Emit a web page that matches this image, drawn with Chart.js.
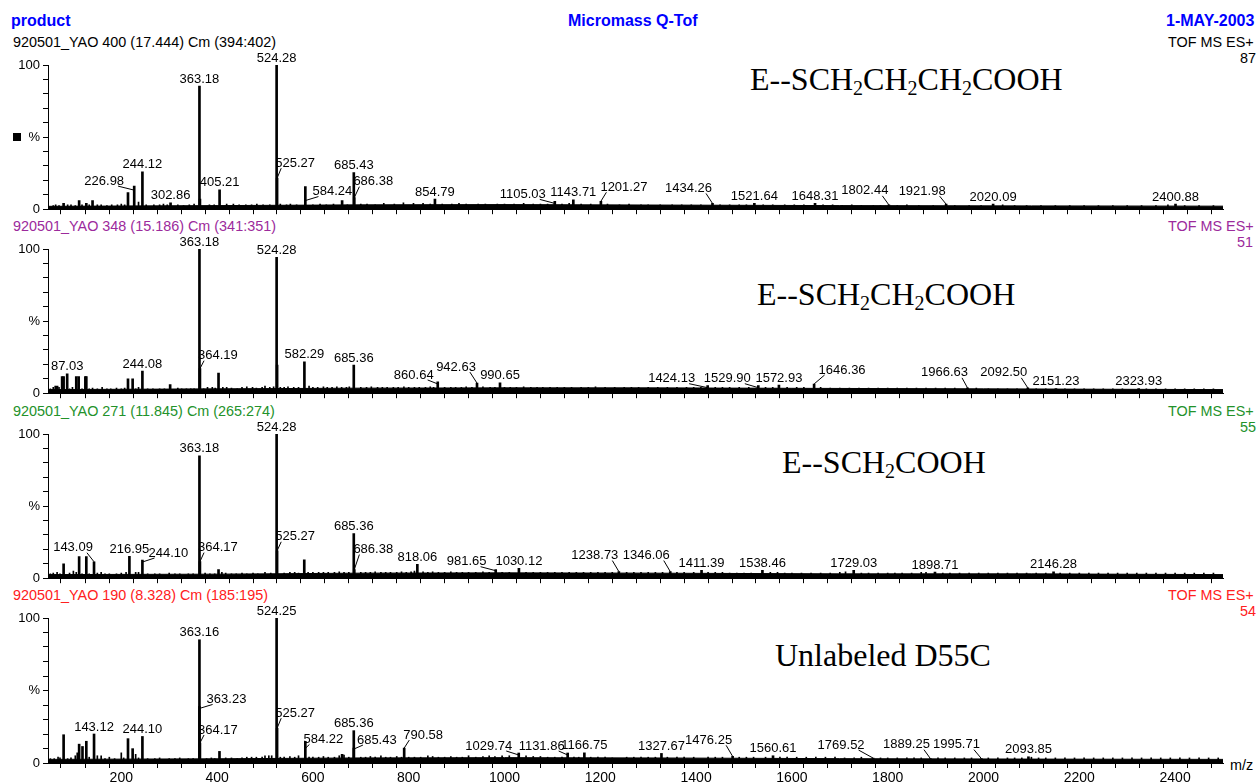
<!DOCTYPE html>
<html>
<head>
<meta charset="utf-8">
<script src="https://cdn.jsdelivr.net/npm/chart.js@4.4.1/dist/chart.umd.min.js"></script>
<style>
  body { margin: 0; background: #fff; }
  #page { position: relative; width: 1258px; height: 783px; overflow: hidden; font-family: "Liberation Sans", Arial, sans-serif; }
  .txt { position: absolute; white-space: nowrap; font-size: 14.4px; line-height: 16px; }
  .hd { font-size: 16px; line-height: 18px; font-weight: bold; color: #0000ff; }
  .big { position: absolute; white-space: nowrap; font-family: "Liberation Serif", "Times New Roman", serif; font-size: 32px; line-height: 32px; color: #000; }
  .big sub { font-size: 20px; vertical-align: -5px; line-height: 0; }
  canvas { position: absolute; left: 0; }
</style>
</head>
<body>
<div id="page">
  <div class="txt hd" style="left:11px;top:12px">product</div>
  <div class="txt hd" style="left:568px;top:12px">Micromass Q-Tof</div>
  <div class="txt hd" style="left:1166px;top:12px">1-MAY-2003</div>

  <div class="txt" style="left:13px;top:34px;color:#000">920501_YAO 400 (17.444) Cm (394:402)</div>
  <div class="txt" style="left:1168px;top:34px;color:#000">TOF MS ES+</div>
  <div class="txt" style="right:2px;top:50px;color:#000">87</div>
  <div style="position:absolute;left:13px;top:133px;width:8px;height:8px;background:#000"></div>

  <div class="txt" style="left:13px;top:218px;color:#9c2a9c">920501_YAO 348 (15.186) Cm (341:351)</div>
  <div class="txt" style="left:1168px;top:218px;color:#9c2a9c">TOF MS ES+</div>
  <div class="txt" style="right:5px;top:234px;color:#9c2a9c">51</div>

  <div class="txt" style="left:13px;top:403px;color:#23922a">920501_YAO 271 (11.845) Cm (265:274)</div>
  <div class="txt" style="left:1168px;top:403px;color:#23922a">TOF MS ES+</div>
  <div class="txt" style="right:2px;top:419px;color:#23922a">55</div>

  <div class="txt" style="left:13px;top:587px;color:#ff2020">920501_YAO 190 (8.328) Cm (185:195)</div>
  <div class="txt" style="left:1168px;top:587px;color:#ff2020">TOF MS ES+</div>
  <div class="txt" style="right:2px;top:603px;color:#ff2020">54</div>

  <div class="big" style="left:750px;top:63px">E--SCH<sub>2</sub>CH<sub>2</sub>CH<sub>2</sub>COOH</div>
  <div class="big" style="left:757px;top:278px">E--SCH<sub>2</sub>CH<sub>2</sub>COOH</div>
  <div class="big" style="left:782px;top:446px">E--SCH<sub>2</sub>COOH</div>
  <div class="big" style="left:775px;top:639px">Unlabeled D55C</div>

  <div class="txt" style="left:1230px;top:757px;color:#000">m/z</div>
</div>

<script>
// ---- panel 1 : YAO 400 ----
const mz1  = [79.6, 112, 127, 140, 214, 226.98, 244.12, 302.86, 363.18, 364.2, 405.21, 524.28, 525.27, 584.24, 661, 685.43, 686.38,
              854.79, 1105.03, 1143.71, 1201.27, 1434.26, 1521.64, 1648.31, 1802.44, 1921.98, 2020.09, 2400.88];
const int1 = [4, 6, 4, 6, 11.6, 16, 26, 4.5, 85.3, 7, 13.5, 100, 21.5, 15.7, 6, 25.4, 8,
              7, 5.4, 6.5, 5.5, 4, 4, 4, 3, 3.5, 3.5, 3.5];
const labels1 = [226.98, 244.12, 302.86, 363.18, 405.21, 524.28, 525.27, 584.24, 685.43, 686.38, 854.79, 1105.03, 1143.71,
                 1201.27, 1434.26, 1521.64, 1648.31, 1802.44, 1921.98, 2020.09, 2400.88];
const nudge1 = { '226.98': [-30, 2], '525.27': [18, -8], '584.24': [27, 12], '686.38': [19, -9], '1105.03': [-32, 0],
                 '1201.27': [23, -7], '1434.26': [-24, -8], '1802.44': [-24, -7], '1921.98': [-24, -6] };
const noise1 = [[58,2.5],[63,3],[70,2.5],[88,3],[95,3],[104,2.5],[118,3],[133,3],[150,3],[158,3],[170,2.5],[180,3],[192,3],[200,3.5],
  [207,3],[236,5],[252,3],[268,3],[280,3],[288,3.5],[296,3],[318,3],[330,2.5],[342,3],[352,3.5],[384,3],[394,3],[420,3.5],[434,3.5],
  [446,3],[460,3],[472,3],[483,3.5],[496,3],[510,3],[532,3.5],[545,3],[553,3.5],[566,3],[600,3],[615,3.5],[628,3],[643,3.5],[672,3],
  [700,3.5],[713,3.5],[730,3],[748,4],[770,3.5],[789,4.5],[810,4],[830,4],[845,3.5],[870,3.5],[890,3.5],[905,4],[920,3.5],[945,3.5],
  [960,3.5],[985,3.5],[1000,3.5],[1020,3.5],[1040,4],[1060,3.5],[1075,3.5],[1090,3.5],[1120,3.5],[1135,4],[1160,3.5],[1180,3.5],
  [1215,3.5],[1240,3],[1260,3.5],[1285,3],[1300,3],[1325,3],[1350,3],[1370,3],[1390,3],[1410,3],[1450,3],[1470,3],[1490,3],[1505,3],
  [1540,3],[1560,3],[1585,3],[1605,3],[1625,3],[1665,3],[1685,3],[1705,2.5],[1725,3],[1745,2.5],[1770,2.5],[1785,2.5],[1820,2.5],
  [1840,3],[1865,2.5],[1895,2.5],[1940,2.5],[1970,2.5],[1995,2.5],[2040,3],[2065,2.5],[2090,2.5],[2120,2.5],[2150,2.5],[2180,2.5],
  [2210,2.5],[2240,2.5],[2270,2.5],[2300,2.5],[2330,2.5],[2360,2.5],[2385,3],[2420,2.5],[2450,2.5],[2480,2.5]];
const floor1 = [[47,2],[400,2.5],[700,3],[1000,3.2],[1300,2.9],[1700,2.5],[2100,2.3],[2500,2.1]];

// ---- panel 2 : YAO 348 ----
const mz2  = [66, 76.5, 79.6, 87.03, 106, 111, 125, 127, 214, 223.7, 244.08, 302, 363.18, 364.19, 403, 524.28, 525.3, 582.29, 685.36,
              860.64, 942.63, 990.65, 1424.13, 1529.90, 1572.93, 1646.36, 1966.63, 2092.50, 2151.23, 2323.93];
const int2 = [5, 11.5, 11.5, 13.5, 11.5, 11.5, 11.5, 11.5, 9.9, 9.9, 15.4, 6, 100, 17, 14, 94.2, 19.5, 21.8, 19.5,
              7.8, 7, 7.2, 5.2, 5.2, 5.7, 6.4, 3.7, 3.7, 3.2, 3.2];
const labels2 = [87.03, 244.08, 363.18, 364.19, 524.28, 582.29, 685.36, 860.64, 942.63, 990.65, 1424.13, 1529.90, 1572.93,
                 1646.36, 1966.63, 2092.50, 2151.23, 2323.93];
const nudge2 = { '364.19': [18, -6], '860.64': [-24, 0], '942.63': [-21, -9], '1424.13': [-36, 0], '1529.90': [-31, 0],
                 '1646.36': [28, -7], '1966.63': [-23, -8], '2092.50': [-24, -8] };
const noise2 = [[52,3],[58,4],[62,5],[70,4],[92,3],[98,4],[118,3],[133,3],[140,3.5],[150,3],[160,4],[170,3],[178,3],[190,3.5],
  [200,3],[207,3.5],[230,3],[236,4],[255,3],[266,3],[280,3],[290,3],[318,3.5],[326,3],[336,3],[345,3],[352,3],[372,3],[380,4],
  [390,4],[396,3.5],[412,4],[420,4],[430,3.5],[442,3],[452,4],[462,4.5],[474,4],[482,3.5],[494,4],[500,5],[510,4],[518,4.5],
  [532,4],[540,4],[548,4.5],[560,4],[570,4],[592,5],[600,4],[610,4],[622,4.5],[630,4],[640,4],[650,4.5],[660,4],[670,4],[676,4.5],
  [700,4],[712,4],[722,4.5],[735,4],[745,4],[755,4],[768,4],[778,4],[790,4.5],[800,4],[812,4],[822,4],[835,4],[845,4.5],[852,4],
  [875,4],[888,4],[898,4],[910,4],[920,4.5],[932,4],[955,4.5],[970,4],[980,4],[1000,4],[1012,4],[1025,4],[1040,4.5],[1055,4],
  [1068,4],[1080,4],[1095,4],[1110,4],[1125,4],[1140,4],[1160,4],[1175,4],[1190,4.5],[1210,4],[1230,4],[1250,4],[1265,4],[1280,4],
  [1300,4],[1320,4],[1340,4],[1360,4],[1380,4],[1395,4],[1410,4],[1440,4],[1455,4],[1470,4],[1490,4],[1510,4],[1545,4],[1560,4],
  [1590,4],[1610,4],[1625,4],[1660,4],[1680,3.5],[1700,3.5],[1720,3.5],[1740,3.5],[1760,3.5],[1780,3.5],[1800,3.5],[1820,3.5],
  [1840,3.5],[1860,3.5],[1880,3.5],[1900,3.5],[1920,3.5],[1940,3.5],[1985,3.5],[2010,3],[2030,3],[2050,3],[2070,3],[2110,3],
  [2130,3],[2170,3],[2190,3],[2210,3],[2230,3],[2250,3],[2270,3],[2290,3],[2340,3],[2360,3],[2380,3],[2400,3],[2420,3],[2440,3],
  [2460,3],[2480,3]];
const floor2 = [[47,2.5],[400,3],[700,3.5],[1000,3.7],[1300,3.7],[1600,3.4],[2000,3],[2500,2.5]];

// ---- panel 3 : YAO 271 ----
const mz3  = [79.6, 112, 127, 143.09, 216.95, 244.10, 363.18, 364.17, 403, 524.28, 525.27, 582, 685.36, 686.38, 818.06,
              981.65, 1030.12, 1238.73, 1346.06, 1411.39, 1538.46, 1729.03, 1898.71, 2146.28];
const int3 = [10, 15, 15, 11.4, 15.2, 12.6, 84.9, 11.5, 6, 100, 19, 12.8, 31, 6, 9.6,
              5.9, 6.9, 4.6, 4.6, 5.5, 5.5, 5.5, 4.3, 4.4];
const labels3 = [143.09, 216.95, 244.10, 363.18, 364.17, 524.28, 525.27, 685.36, 686.38, 818.06, 981.65, 1030.12, 1238.73,
                 1346.06, 1411.39, 1538.46, 1729.03, 1898.71, 2146.28];
const nudge3 = { '143.09': [-21, -7], '244.10': [26, 0], '364.17': [18, -7], '525.27': [18, -7], '686.38': [19, -13],
                 '981.65': [-29, -1], '1238.73': [-24, -9], '1346.06': [-24, -9] };
const noise3 = [[52,3],[58,3.5],[66,4],[72,3],[92,3.5],[100,5],[106,4],[118,3],[133,3],[150,3.5],[158,4],[166,3],[175,3],[190,3],
  [200,3.5],[210,4],[230,4],[236,4],[255,3],[270,3],[280,3],[300,3.5],[312,3],[322,3],[340,3],[350,3],[375,3.5],[385,3],[395,3],
  [410,4],[418,3.5],[430,3],[440,3],[452,3.5],[462,3],[475,3.5],[485,3],[500,4],[512,3.5],[540,3.5],[552,4],[562,4],[570,3.5],
  [590,4],[600,4],[612,4],[622,4],[632,4],[645,4],[655,4.5],[665,4],[675,4],[700,4],[710,4],[720,4],[730,4.5],[742,4],[752,4],
  [762,4],[775,4],[785,4.5],[795,4],[805,4.5],[812,5],[830,4.5],[840,4],[850,4.5],[862,4],[875,4],[888,4.5],[900,4],[912,4],
  [925,4],[940,4],[955,4.5],[968,4],[995,4],[1010,4],[1045,4],[1060,4],[1075,4],[1090,4],[1105,4],[1120,4],[1135,4],[1150,4],
  [1165,4],[1180,4],[1195,4],[1210,4],[1225,4],[1255,4],[1270,4],[1285,4],[1300,4],[1315,4],[1330,4],[1360,4],[1375,4],[1395,4],
  [1425,4],[1440,4],[1455,4],[1470,3.5],[1485,3.5],[1500,3.5],[1515,3.5],[1555,4],[1570,4],[1585,3.5],[1600,3.5],[1620,3.5],
  [1640,3.5],[1660,3.5],[1680,3.5],[1700,4],[1712,4.5],[1745,3.5],[1760,3.5],[1780,3.5],[1800,3.5],[1815,3.5],[1830,3.5],
  [1850,3.5],[1870,4],[1880,4],[1915,3.5],[1930,3.5],[1950,3.5],[1970,3.5],[1990,3.5],[2010,3.5],[2030,3.5],[2050,3.5],[2070,3.5],
  [2090,3.5],[2110,3.5],[2130,3.5],[2160,3.5],[2180,3.5],[2200,3.5],[2220,3.5],[2240,3.5],[2260,3.5],[2280,3.5],[2300,3.5],
  [2320,3.5],[2340,3.5],[2360,3.5],[2380,3.5],[2400,3.5],[2420,3.5],[2440,3.5],[2460,3.5],[2480,3.5]];
const floor3 = [[47,2.5],[400,2.8],[700,3.5],[1000,3.7],[1300,3.5],[1700,3],[2100,3],[2500,2.5]];

// ---- panel 4 : YAO 190 (unlabeled) ----
const mz4  = [79.6, 112, 119, 127, 143.12, 214, 223.7, 244.10, 363.16, 363.23, 364.17, 405, 524.25, 525.27, 584.22, 661, 685.36,
              685.43, 790.58, 1029.74, 1131.86, 1166.75, 1327.67, 1476.25, 1560.61, 1769.52, 1889.25, 1995.71, 2093.85];
const int4 = [19.5, 13, 11.4, 15, 20, 16.8, 9.9, 18.3, 85, 39, 13.8, 8, 100, 24, 14.9, 6, 22.3,
              10.3, 10.3, 6.9, 6.9, 7, 6.6, 4.6, 5, 3.4, 3, 3, 4.3];
const labels4 = [143.12, 244.10, 363.16, 363.23, 364.17, 524.25, 525.27, 584.22, 685.36, 685.43, 790.58, 1029.74, 1131.86,
                 1166.75, 1327.67, 1476.25, 1560.61, 1769.52, 1889.25, 1995.71, 2093.85];
const nudge4 = { '363.23': [27, 0], '364.17': [18, -6], '525.27': [18, -8], '584.22': [18, 5], '685.43': [23, -1],
                 '790.58': [19, -6], '1029.74': [-30, 0], '1131.86': [-26, 0], '1476.25': [-24, -9], '1769.52': [-32, -6],
                 '1889.25': [-24, -7], '1995.71': [-25, -7] };
const noise4 = [[52,3],[60,3],[68,4],[72,3.5],[88,3],[95,3.5],[104,5],[108,7],[133,4],[150,5],[158,5],[166,3],[175,4],[186,3],
  [200,7],[205,3.5],[230,6],[236,3.5],[255,3],[270,3],[280,3.5],[300,3],[312,3],[322,3.5],[340,3],[350,3],[378,3],[388,3.5],[395,3],
  [418,3.5],[430,3.5],[442,3],[452,3.5],[462,4],[472,4],[482,4],[494,4],[500,5],[508,5],[514,5],[532,4],[540,4],[552,4.5],[562,4],
  [570,5],[592,4],[600,4],[612,4],[622,4.5],[632,4],[645,4],[655,5],[665,5.5],[675,4],[700,4],[710,4],[720,4.5],[730,4],[742,5],
  [752,4],[762,4],[775,4.5],[785,4],[800,4],[812,4],[825,4],[840,5],[850,4.5],[862,4],[875,4],[888,4.5],[900,4],[912,4],[925,5],
  [940,4],[955,4.5],[968,5],[980,4.5],[995,5],[1010,5],[1045,5],[1060,4.5],[1075,4.5],[1090,4],[1105,4],[1120,4],[1145,4],[1155,4],
  [1180,4],[1195,4],[1210,4],[1225,3.5],[1255,4],[1270,4],[1285,4],[1300,4],[1315,4],[1340,4],[1360,4],[1375,4],[1395,4],[1425,4],
  [1440,4],[1455,4],[1490,4],[1505,4],[1520,4],[1545,4],[1575,4],[1590,4],[1610,4],[1630,4],[1650,4],[1670,4],[1690,4],[1710,3.5],
  [1730,3.5],[1745,4],[1785,3.5],[1800,3.5],[1820,3.5],[1840,3.5],[1855,3.5],[1870,3.5],[1905,3.5],[1920,3.5],[1940,3.5],[1960,3.5],
  [1975,3.5],[2010,3.5],[2030,3.5],[2050,3.5],[2065,3.5],[2080,3.5],[2100,4],[2115,3.5],[2130,3.5],[2150,3.5],[2170,3.5],[2190,3.5],
  [2210,3.5],[2230,3.5],[2250,3.5],[2270,3.5],[2290,3.5],[2310,3.5],[2330,3.5],[2350,3.5],[2370,3.5],[2390,3.5],[2410,3.5],
  [2430,3.5],[2450,3.5],[2470,3.5],[2490,3.5]];
const floor4 = [[47,2.5],[400,2.9],[700,3.5],[1000,3.7],[1300,3.5],[1700,3],[2100,2.7],[2500,2.5]];

const panels = [
  { mz: mz1, int: int1, labels: labels1, nudge: nudge1, noise: noise1, floor: floor1 },
  { mz: mz2, int: int2, labels: labels2, nudge: nudge2, noise: noise2, floor: floor2 },
  { mz: mz3, int: int3, labels: labels3, nudge: nudge3, noise: noise3, floor: floor3 },
  { mz: mz4, int: int4, labels: labels4, nudge: nudge4, noise: noise4, floor: floor4 }
];

// pixel row of the 100% line of each panel
const panelTop = [65, 249, 434, 618];
const PLOT_H = 145;
const FONT = '"Liberation Sans", Arial, sans-serif';

// peak labels, with a small leader line when the label is pushed sideways
function peakLabels(p) {
  return {
    id: 'peakLabels',
    afterDatasetsDraw(chart) {
      const ctx = chart.ctx, xs = chart.scales.x, ys = chart.scales.y;
      ctx.save();
      ctx.font = '13px ' + FONT;
      ctx.fillStyle = '#000';
      ctx.strokeStyle = '#000';
      ctx.lineWidth = 1;
      ctx.textAlign = 'center';
      ctx.textBaseline = 'middle';
      p.labels.forEach(m => {
        const i = p.mz.indexOf(m);
        const txt = m.toFixed(2);
        const px = xs.getPixelForValue(m);
        const top = ys.getPixelForValue(p.int[i]);
        const nd = p.nudge[txt] || [0, 0];
        const cx = px + nd[0], cy = top - 7 + nd[1];
        ctx.fillText(txt, cx, cy);
        if (Math.abs(nd[0]) > 6) {
          const w = ctx.measureText(txt).width;
          const sx = nd[0] < 0 ? cx + w / 2 - 6 : cx - w / 2 + 6;
          ctx.beginPath();
          ctx.moveTo(sx, cy + 5);
          ctx.lineTo(px, Math.max(top, cy + 9));
          ctx.stroke();
        }
      });
      ctx.restore();
    }
  };
}

const page = document.getElementById('page');

panels.forEach((p, idx) => {
  const last = idx === panels.length - 1;
  const axisH = last ? 30 : 10;
  const cv = document.createElement('canvas');
  cv.width = 1258;
  cv.height = 20 + PLOT_H + axisH;
  cv.style.top = (panelTop[idx] - 20) + 'px';
  page.appendChild(cv);

  new Chart(cv, {
    type: 'bar',
    data: {
      datasets: [
        {
          type: 'line',
          data: p.floor.map(d => ({ x: d[0], y: d[1] })),
          fill: 'origin',
          backgroundColor: '#000',
          borderColor: '#000',
          borderWidth: 1,
          pointRadius: 0,
          order: 3
        },
        {
          data: p.noise.map(d => ({ x: d[0], y: d[1] })),
          backgroundColor: '#000',
          barThickness: 1,
          grouped: false,
          order: 2
        },
        {
          data: p.mz.map((m, i) => ({ x: m, y: p.int[i] })),
          backgroundColor: '#000',
          barThickness: 2,
          grouped: false,
          order: 1
        }
      ]
    },
    options: {
      responsive: false,
      animation: false,
      devicePixelRatio: 1,
      layout: { padding: { top: 20, right: 35, left: 0, bottom: 0 } },
      plugins: { legend: { display: false }, tooltip: { enabled: false } },
      scales: {
        x: {
          type: 'linear',
          min: 47,
          max: 2500,
          offset: false,
          grid: { drawOnChartArea: false, color: '#000', tickLength: 5 },
          border: { color: '#000' },
          ticks: {
            display: last,
            stepSize: 50,
            autoSkip: false,
            maxRotation: 0,
            color: '#000',
            padding: 2,
            font: { size: 14, family: FONT },
            callback: v => (v % 200 === 0 ? String(v) : '')
          },
          afterFit: s => { s.height = axisH; }
        },
        y: {
          min: 0,
          max: 100,
          grid: { drawOnChartArea: false, color: '#000', tickLength: 5 },
          border: { color: '#000' },
          ticks: {
            stepSize: 10,
            autoSkip: false,
            color: '#000',
            padding: 3,
            font: { size: 13, family: FONT },
            callback: v => (v === 100 ? '100' : v === 50 ? '%' : v === 0 ? '0' : '')
          },
          afterFit: s => { s.width = 48; }
        }
      }
    },
    plugins: [peakLabels(p)]
  });
});
</script>
</body>
</html>
